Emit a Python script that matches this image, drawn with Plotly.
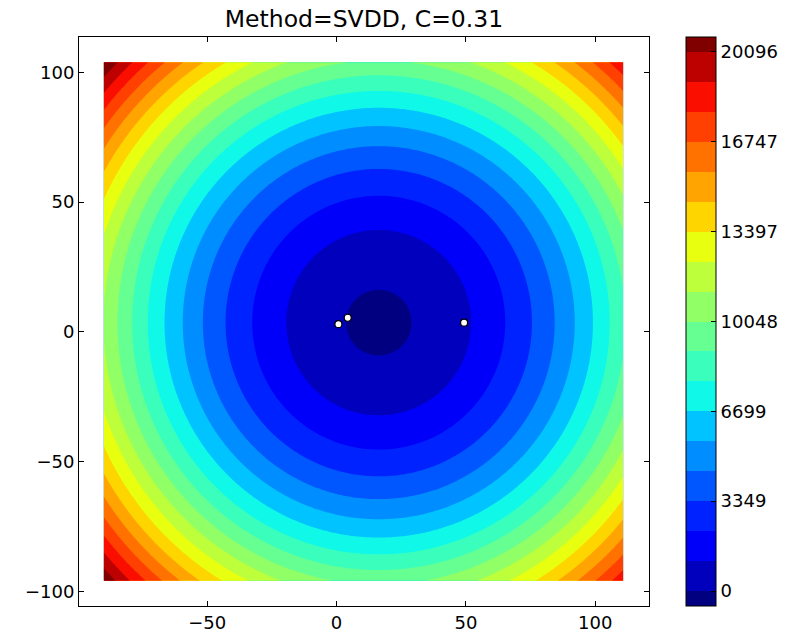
import numpy as np
import plotly.graph_objects as go

# --- data ---
title_text = "Method=SVDD, C=0.31"
pts_x = [0.7, 4.3, 49.3]
pts_y = [2.9, 5.4, 3.5]
svdd_center = [16.3, 3.5]      # fitted centre of the decision surface
svdd_r2 = 160.0                # squared radius (level 0 circle)
grid_x_range = [-90.0, 110.8]
grid_y_range = [-96.0, 103.9]
level_start = 0.0
level_end = 20096.0
level_count = 18               # number of steps between start and end
cbar_tickvals = [0, 3349.33, 6698.67, 10048, 13397.33, 16746.67, 20096]
cbar_ticktext = ["0", "3349", "6699", "10048", "13397", "16747", "20096"]
x_ticks = [-50, 0, 50, 100]
y_ticks = [-100, -50, 0, 50, 100]
x_range = [-99.6, 120.8]
y_range = [-105.7, 113.6]

# --- decision surface ---
gx = np.linspace(grid_x_range[0], grid_x_range[1], 241)
gy = np.linspace(grid_y_range[0], grid_y_range[1], 241)
XX, YY = np.meshgrid(gx, gy)
Z = (XX - svdd_center[0]) ** 2 + (YY - svdd_center[1]) ** 2 - svdd_r2


def jet(v):
    r = np.interp(v, [0, 0.35, 0.66, 0.89, 1], [0, 0, 1, 1, 0.5])
    g = np.interp(v, [0, 0.125, 0.375, 0.64, 0.91, 1], [0, 0, 1, 1, 0, 0])
    b = np.interp(v, [0, 0.11, 0.34, 0.65, 1], [0.5, 1, 1, 0, 0])
    return "rgb(%d,%d,%d)" % (round(r * 255), round(g * 255), round(b * 255))


nb = level_count + 1
colorscale = [[i / nb, jet(i / nb)] for i in range(nb + 1)]

W, H = 793, 635
L, R, T, B = 79, 144, 37, 29
plot_w = W - L - R

font = dict(family="DejaVu Sans", size=18, color="black")

fig = go.Figure()
fig.add_trace(go.Contour(
    x=gx, y=gy, z=Z,
    autocontour=False,
    contours=dict(start=level_start, end=level_end,
                  size=(level_end - level_start) / level_count,
                  coloring="fill", showlines=False),
    line=dict(width=0),
    colorscale=colorscale,
    hoverinfo="skip",
    colorbar=dict(
        x=(686 - L) / plot_w, xanchor="left", xpad=0, ypad=0,
        y=0.5, yanchor="middle",
        thickness=30, lenmode="pixels", len=569,
        outlinecolor="black", outlinewidth=1,
        tickmode="array", tickvals=cbar_tickvals, ticktext=cbar_ticktext,
        ticks="inside", ticklen=5, tickcolor="black",
        tickfont=font,
    ),
))
fig.add_trace(go.Scatter(
    x=pts_x, y=pts_y, mode="markers",
    marker=dict(size=7, color="white", line=dict(color="black", width=1.2)),
    hoverinfo="skip", showlegend=False,
))

axis_common = dict(
    showgrid=False, zeroline=False, showline=True, linecolor="black",
    linewidth=1, mirror="ticks", ticks="inside", ticklen=5,
    tickcolor="black", tickfont=font, automargin=False,
)
fig.update_xaxes(range=x_range, tickvals=x_ticks,
                 ticktext=["\u221250", "0", "50", "100"], **axis_common)
fig.update_yaxes(range=y_range, tickvals=y_ticks,
                 ticktext=["\u2212100", "\u221250", "0", "50", "100"], **axis_common)

fig.update_layout(
    width=W, height=H,
    margin=dict(l=L, r=R, t=T, b=B, pad=0, autoexpand=False),
    paper_bgcolor="white", plot_bgcolor="white",
    title=dict(text=title_text, x=(L + plot_w / 2) / W, xanchor="center",
               y=1 - 19 / H, yanchor="middle", yref="container",
               font=dict(family="DejaVu Sans", size=23.5, color="black")),
    showlegend=False,
)

fig.write_html("out.html", config={"displayModeBar": False},
               post_script="document.body.style.margin='0';document.body.style.overflow='hidden';")
